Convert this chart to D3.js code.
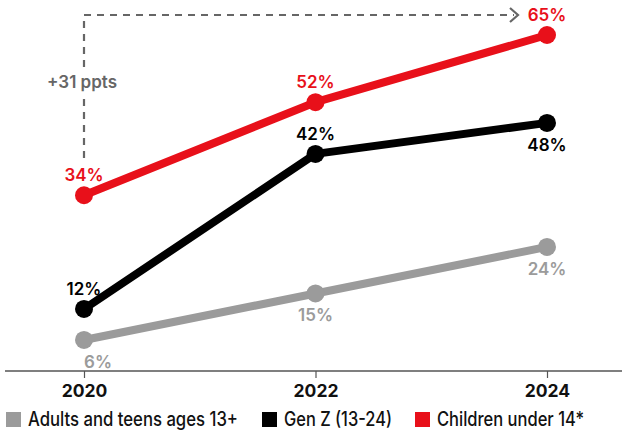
<!DOCTYPE html>
<html><head><meta charset="utf-8">
<script src="https://cdn.jsdelivr.net/npm/d3@7"></script>
<style>body{margin:0;background:#fff;} text{font-family:Inter, "Open Sans", sans-serif;}</style>
</head><body>
<svg id="c" width="622" height="435"></svg>
<script>
const years = ["2020","2022","2024"];
const adults = [6,15,24];
const genZ = [12,42,48];
const children = [34,52,65];
const seriesNames = ["Adults and teens ages 13+","Gen Z (13-24)","Children under 14*"];
const colors = ["#9b9b9b","#000000","#e8101a"];
const annotation = "+31 ppts";

const svg = d3.select("#c");
const x = d3.scalePoint().domain(years).range([84,547]);
const y = d3.scaleLinear().domain([0,65]).range([371,35]);

// axis
const ax = svg.append("g").attr("transform","translate(0,371)").call(d3.axisBottom(x).tickSize(7).tickPadding(7));
ax.select(".domain").attr("d","M5,0H622").attr("stroke","#555").attr("stroke-width",1.5);
ax.selectAll(".tick line").attr("stroke","#555").attr("stroke-width",1.2);
ax.selectAll(".tick text").attr("font-size",17.5).attr("font-weight",700).attr("fill","#111").attr("font-family","Inter, sans-serif");

// annotation
const ann = svg.append("g");
ann.append("path").attr("d",`M${x("2020")},158V15H514`).attr("fill","none").attr("stroke","#666").attr("stroke-width",2.2).attr("stroke-dasharray","7,6");
ann.append("path").attr("d","M510,8L518,15L510,22").attr("fill","none").attr("stroke","#666").attr("stroke-width",2.2);
ann.append("rect").attr("x",44).attr("y",70).attr("width",76).attr("height",24).attr("fill","#fff");
ann.append("text").attr("x",82).attr("y",88).attr("text-anchor","middle").attr("font-size",17).attr("font-weight",600).attr("fill","#666").attr("textLength",70).text(annotation);

const data = [adults, genZ, children];
const line = d3.line().x((d,i)=>x(years[i])).y(d=>y(d));
data.forEach((vals,si)=>{
  const g = svg.append("g");
  g.append("path").datum(vals).attr("d",line).attr("fill","none").attr("stroke",colors[si]).attr("stroke-width",8).attr("stroke-linejoin","round");
  g.selectAll("circle").data(vals).join("circle").attr("cx",(d,i)=>x(years[i])).attr("cy",d=>y(d)).attr("r",9).attr("fill",colors[si]);
});

// labels: position offsets per point (above = -1, below = +1)
const labelPos = [[1,1,1],[-1,-1,1],[-1,-1,-1]];
const labelDx = [[14,0,0],[0,0,0],[0,0,0]];
data.forEach((vals,si)=>{
  svg.append("g").selectAll("text").data(vals).join("text")
    .attr("x",(d,i)=>x(years[i])+labelDx[si][i])
    .attr("y",(d,i)=>y(d)+(labelPos[si][i]<0?-14:28))
    .attr("text-anchor","middle").attr("font-size",17).attr("font-weight",600)
    .attr("fill",colors[si]).text(d=>d+"%");
});

// legend
const legX = [6,262,415];
const legW = [210,108,147];
const leg = svg.append("g");
seriesNames.forEach((n,i)=>{
  leg.append("rect").attr("x",legX[i]).attr("y",412).attr("width",15).attr("height",15).attr("fill",colors[i]);
  leg.append("text").attr("x",legX[i]+22).attr("y",426).attr("font-size",19.5).attr("font-weight",500)
    .attr("font-family","Roboto, sans-serif").attr("textLength",legW[i]).attr("lengthAdjust","spacingAndGlyphs")
    .attr("fill","#111").text(n);
});
</script>
</body></html>
